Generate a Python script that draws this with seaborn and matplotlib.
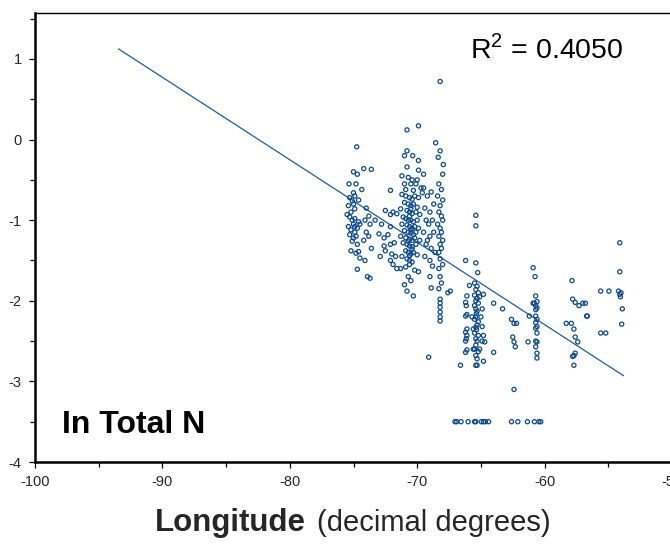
import matplotlib
matplotlib.use("Agg")
import matplotlib.pyplot as plt
from matplotlib.ticker import MultipleLocator
import seaborn as sns
import pandas as pd

# ---------------- data ----------------
longitude = [
    # cluster near -75
    -74.75, -75.0, -74.7, -74.2, -75.35, -74.8, -74.35, -75.0, -75.3, -74.9,
    -75.1, -74.6, -75.4, -74.9, -75.2, -75.5, -75.3, -74.9, -75.1, -74.6,
    -75.0, -75.4, -74.7, -75.2, -74.9, -75.3, -74.8, -75.0, -74.5, -75.1,
    -74.7, -74.6, -75.2, -74.8, -74.5, -73.6, -74.7, -73.9, -74.9, -75.0,
    -74.0, -73.8, -74.1, -73.7, -74.0, -73.8, -74.2, -73.6, -74.1, -73.7,
    # scattered -73 .. -71.5
    -72.1, -72.5, -71.9, -72.1, -71.6, -73.0, -72.3, -72.6, -72.1, -72.6,
    -72.1, -71.8, -72.5, -72.0, -71.7, -72.1, -71.9, -71.6, -72.9, -73.3,
    -72.8,
    # dense column near -70.6 (upper part)
    -70.8, -69.9, -70.8, -71.0, -70.35, -69.9, -70.8, -69.9, -69.5, -71.2,
    -70.7, -70.4, -70.0, -71.0, -70.5, -70.1, -69.7, -70.9, -70.3, -69.6,
    # dense column near -70.6 (main part)
    -71.2, -70.9, -70.6, -70.4, -70.2, -69.9, -71.0, -70.7, -70.5, -70.3,
    -70.0, -71.3, -70.8, -70.6, -70.4, -70.1, -69.8, -71.1, -70.9, -70.7,
    -70.5, -70.3, -70.0, -71.2, -70.8, -70.6, -70.4, -70.2, -69.9, -71.0,
    -70.7, -70.5, -70.3, -70.1, -71.3, -70.9, -70.6, -70.4, -70.2, -69.8,
    -71.1, -70.8, -70.6, -70.4, -70.1, -70.9, -70.7, -70.5, -70.3, -70.0,
    -71.2, -70.8, -70.6, -70.4, -70.6, -70.9, -71.3, -70.2, -69.9, -70.7,
    -71.0, -70.8, -70.3, -70.5, -70.6, -70.5, -70.7, -70.4, -70.6, -70.5,
    # between -69.6 and -68.6
    -69.5, -69.2, -68.9, -69.4, -69.0, -68.7, -69.3, -69.1, -68.8, -69.5,
    -69.0, -68.7, -69.3, -68.9, -69.4, -69.0, -68.8, -69.0, -68.9, -69.2,
    -68.6,
    # column near -68.2
    -68.2, -68.55, -68.2, -68.35, -67.95, -68.0, -68.3, -68.1, -68.4, -68.0,
    -68.2, -68.3, -68.1, -68.0, -68.4, -68.2, -68.1, -68.3, -68.0, -68.2,
    -68.1, -68.3, -68.2, -68.0, -68.3, -68.2, -68.1, -68.3, -68.2, -68.2,
    -68.2, -68.2, -68.2, -68.2, -67.6, -67.4, -69.1,
    # column near -65.4
    -65.4, -65.4, -65.4, -65.25, -65.5, -65.3, -65.4, -65.2, -65.5, -65.3,
    -65.4, -65.2, -65.5, -65.4, -65.3, -65.35, -65.4, -65.5, -65.2, -65.3,
    -65.4, -65.35, -65.5, -65.2, -65.4, -65.3, -65.4, -65.5, -65.2, -65.4,
    -65.3, -65.4, -65.3, -64.9, -64.9, -64.8, -64.7, -65.1, -65.0, -65.1,
    -64.9, -65.6, -65.7, -65.6,
    # column near -66.2
    -66.2, -66.1, -66.2, -66.15, -66.1, -66.2, -66.1, -66.2, -66.1, -66.15,
    -66.2, -66.1, -66.2, -66.6, -65.9,
    # scattered -64.8 .. -62
    -64.8, -64.0, -63.3, -64.0, -64.8, -62.6, -62.4, -62.2, -62.5, -62.4,
    -62.3, -62.4,
    # column near -60.7
    -60.9, -60.75, -60.7, -60.6, -60.9, -60.8, -60.7, -60.6, -60.7, -61.2,
    -60.7, -60.6, -60.7, -60.6, -60.7, -60.6, -60.7, -61.3, -60.6, -60.7,
    -60.6, -60.6,
    # -58 .. -56.7
    -57.85, -57.8, -57.6, -57.3, -57.0, -56.8, -56.7, -56.65, -58.3, -57.9,
    -57.7, -57.6, -57.4, -57.8, -57.7, -57.6, -57.7,
    # -55.6 .. -53.9
    -54.1, -54.1, -55.6, -54.95, -54.2, -54.0, -54.1, -54.05, -53.9, -53.95,
    -55.6, -55.2,
    # bottom row (censored values)
    -67.03, -66.9, -66.56, -66.0, -65.5, -65.4, -64.97, -64.8, -64.65, -64.4,
    -62.6, -62.1, -61.35, -60.8, -60.45, -60.3,
]

ln_total_n = [
    # cluster near -75
    -0.09, -0.40, -0.43, -0.36, -0.55, -0.55, -0.62, -0.66, -0.72, -0.70,
    -0.76, -0.75, -0.82, -0.86, -0.90, -0.93, -0.96, -0.98, -1.00, -1.02,
    -1.05, -1.08, -1.10, -1.12, -1.15, -1.18, -1.20, -1.22, -1.05, -1.26,
    -1.30, -1.39, -1.38, -1.41, -1.47, -0.37, -1.61, -1.70, -1.08, -0.80,
    -0.85, -0.95, -1.00, -1.05, -1.15, -1.20, -1.25, -1.35, -1.50, -1.72,
    # scattered -73 .. -71.5
    -0.63, -0.88, -0.90, -0.93, -0.92, -1.17, -1.18, -1.22, -1.08, -1.32,
    -1.30, -1.28, -1.38, -1.42, -1.45, -1.50, -1.55, -1.60, -1.45, -1.00,
    -1.05,
    # dense column near -70.6 (upper part)
    0.12, 0.17, -0.14, -0.20, -0.20, -0.26, -0.34, -0.38, -0.43, -0.45,
    -0.47, -0.50, -0.50, -0.55, -0.55, -0.55, -0.60, -0.62, -0.63, -0.66,
    # dense column near -70.6 (main part)
    -0.68, -0.70, -0.72, -0.74, -0.70, -0.72, -0.78, -0.80, -0.82, -0.80,
    -0.84, -0.86, -0.88, -0.90, -0.92, -0.90, -0.93, -0.96, -0.98, -1.00,
    -1.00, -1.02, -1.00, -1.05, -1.06, -1.08, -1.10, -1.08, -1.10, -1.13,
    -1.15, -1.16, -1.18, -1.15, -1.20, -1.22, -1.24, -1.25, -1.22, -1.25,
    -1.28, -1.30, -1.32, -1.33, -1.30, -1.38, -1.40, -1.42, -1.40, -1.43,
    -1.45, -1.48, -1.50, -1.52, -1.55, -1.58, -1.60, -1.62, -1.64, -1.70,
    -1.80, -1.88, -1.94, -1.75, -0.95, -1.12, -1.26, -1.36, -1.44, -0.86,
    # between -69.6 and -68.6
    -0.60, -0.70, -0.65, -0.85, -0.90, -0.80, -1.00, -1.05, -1.00, -1.15,
    -1.20, -1.15, -1.30, -1.35, -1.45, -1.50, -1.57, -1.70, -1.84, -1.25,
    -1.40,
    # column near -68.2
    0.72, -0.04, -0.14, -0.22, -0.31, -0.43, -0.55, -0.62, -0.70, -0.75,
    -0.82, -0.90, -0.95, -1.00, -1.05, -1.10, -1.15, -1.20, -1.25, -1.30,
    -1.35, -1.40, -1.48, -1.55, -1.60, -1.70, -1.78, -1.85, -1.98, -2.03,
    -2.08, -2.14, -2.20, -2.25, -1.90, -1.88, -2.70,
    # column near -65.4
    -0.94, -1.07, -1.53, -1.65, -1.78, -1.82, -1.86, -1.90, -1.93, -1.97,
    -2.00, -2.03, -2.06, -2.10, -2.13, -2.16, -2.20, -2.23, -2.26, -2.30,
    -2.33, -2.36, -2.40, -2.43, -2.47, -2.50, -2.55, -2.60, -2.63, -2.68,
    -2.72, -2.80, -2.80, -2.10, -2.32, -2.43, -2.51, -2.60, -2.20, -1.95,
    -2.50, -2.60, -2.20, -2.35,
    # column near -66.2
    -1.50, -1.94, -2.02, -2.06, -2.17, -2.19, -2.35, -2.39, -2.43, -2.47,
    -2.50, -2.61, -2.64, -2.80, -1.81,
    # scattered -64.8 .. -62
    -1.92, -2.03, -2.10, -2.64, -2.75, -2.23, -2.28, -2.28, -2.45, -2.51,
    -2.57, -3.10,
    # column near -60.7
    -1.59, -1.70, -1.94, -2.01, -2.03, -2.03, -2.06, -2.09, -2.11, -2.19,
    -2.19, -2.23, -2.27, -2.32, -2.34, -2.40, -2.50, -2.51, -2.51, -2.57,
    -2.65, -2.71,
    # -58 .. -56.7
    -1.75, -1.98, -2.02, -2.06, -2.03, -2.03, -2.19, -2.19, -2.28, -2.28,
    -2.35, -2.45, -2.51, -2.69, -2.68, -2.65, -2.80,
    # -55.6 .. -53.9
    -1.28, -1.64, -1.88, -1.88, -1.88, -1.90, -1.92, -1.95, -2.10, -2.29,
    -2.40, -2.40,
    # bottom row (censored values)
    -3.50, -3.50, -3.50, -3.50, -3.50, -3.50, -3.50, -3.50, -3.50, -3.50,
    -3.50, -3.50, -3.50, -3.50, -3.50, -3.50,
]

# fitted regression line (end points)
fit_lon = [-93.45, -53.8]
fit_val = [1.125, -2.93]

x_ticks = [-100, -90, -80, -70, -60, -50]
x_tick_labels = ["-100", "-90", "-80", "-70", "-60", "-50"]
y_ticks = [-4, -3, -2, -1, 0, 1]
y_tick_labels = ["-4", "-3", "-2", "-1", "0", "1"]

r2_label = "R$^2$ = 0.4050"
panel_label = "In Total N"

# ---------------- plotting ----------------
sns.set_style("white")
plt.rcParams["font.family"] = ["Liberation Sans", "DejaVu Sans"]
plt.rcParams["axes.unicode_minus"] = False
plt.rcParams["mathtext.fontset"] = "custom"
plt.rcParams["mathtext.rm"] = "Liberation Sans"

df = pd.DataFrame({"lon": longitude, "val": ln_total_n})
fit = pd.DataFrame({"lon": fit_lon, "val": fit_val})

fig = plt.figure(figsize=(6.70, 5.46), dpi=100)
ax = fig.add_axes([35 / 670, (546 - 462) / 546, (672 - 35) / 670, (462 - 13) / 546])

point_color = "#0d4a8c"
sns.scatterplot(data=df, x="lon", y="val", ax=ax, marker="o", s=9,
                facecolor="none", edgecolor=point_color, linewidth=0.9,
                legend=False, zorder=3)
sns.lineplot(data=fit, x="lon", y="val", ax=ax, color="#1f5b9c",
             linewidth=0.9, zorder=2)

ax.set_xlim(-100, -50)
ax.set_ylim(-4, 1.57)
ax.set_xticks(x_ticks)
ax.set_xticklabels(x_tick_labels)
ax.set_yticks(y_ticks)
ax.set_yticklabels(y_tick_labels)
ax.xaxis.set_minor_locator(MultipleLocator(5))
ax.yaxis.set_minor_locator(MultipleLocator(0.5))
ax.tick_params(axis="both", which="major", direction="out", length=4.5,
               width=0.9, color="black", labelsize=10.5, pad=5,
               bottom=True, left=True)
ax.tick_params(axis="both", which="minor", direction="out", length=3.5,
               width=0.9, color="black", bottom=True, left=True)
for side in ["top", "right", "bottom", "left"]:
    ax.spines[side].set_visible(True)
    ax.spines[side].set_color("black")
ax.spines["top"].set_linewidth(1.0)
ax.spines["right"].set_linewidth(1.0)
ax.spines["bottom"].set_linewidth(1.8)
ax.spines["left"].set_linewidth(1.8)
ax.set_xlabel("")
ax.set_ylabel("")
ax.grid(False)

ax.text(0.683, 0.918, r2_label, transform=ax.transAxes, fontsize=20.5,
        ha="left", va="center", color="black")
ax.text(0.042, 0.082, panel_label, transform=ax.transAxes, fontsize=23,
        fontweight="bold", ha="left", va="center", color="black")

fig.text(155 / 670, 1 - 523 / 546, "Longitude", fontsize=22.5,
         fontweight="bold", ha="left", va="center")
fig.text(317 / 670, 1 - 523 / 546, "(decimal degrees)", fontsize=21,
         ha="left", va="center")

fig.savefig("out.png", dpi=100)
